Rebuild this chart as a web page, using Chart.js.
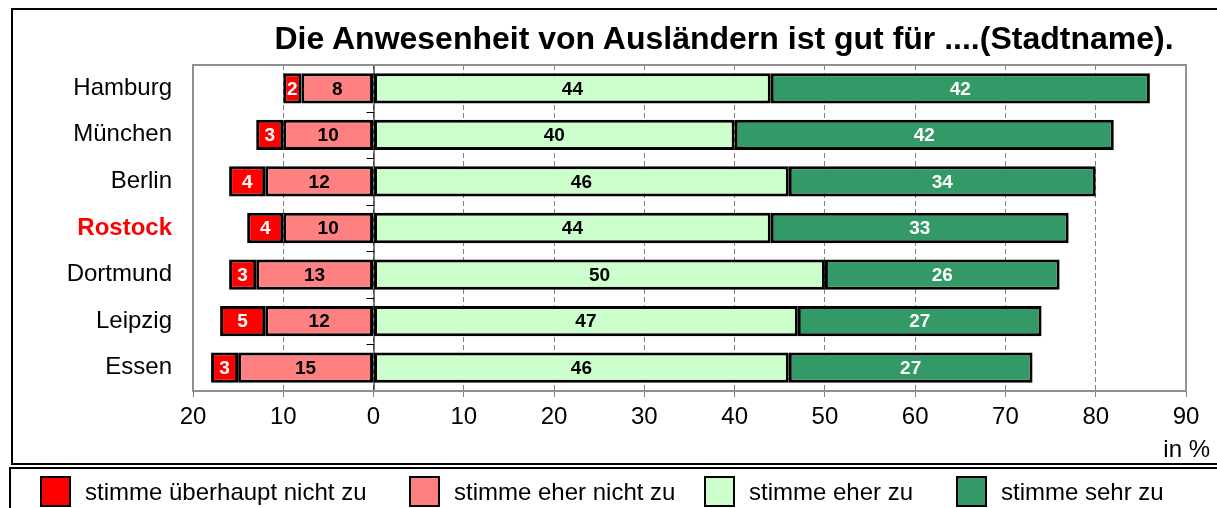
<!DOCTYPE html>
<html lang="de">
<head>
    <meta charset="UTF-8">
    <title>Die Anwesenheit von Ausländern ist gut für ....(Stadtname).</title>
    <script src="https://cdn.jsdelivr.net/npm/chart.js"></script>
    <style>
        body {
            margin: 0;
            font-family: "Liberation Sans", Arial, sans-serif;
            background-color: #ffffff;
            color: #000000;
        }
        .page {
            position: relative;
            width: 1217px;
            height: 508px;
            overflow: hidden;
        }
        .frame {
            position: absolute;
            left: 11px;
            top: 8px;
            width: 1300px;
            height: 453px;
            border: 2px solid #000;
        }
        .legend-frame {
            position: absolute;
            left: 9px;
            top: 467px;
            width: 1300px;
            height: 100px;
            border: 2px solid #000;
        }
        canvas {
            position: absolute;
            left: 0;
            top: 0;
        }
        .title {
            position: absolute;
            left: 224px;
            width: 1000px;
            top: 22px;
            text-align: center;
            font-weight: bold;
            font-size: 32px;
            line-height: 32px;
            white-space: nowrap;
        }
        .unit {
            position: absolute;
            right: 7px;
            top: 437px;
            font-size: 24px;
            line-height: 24px;
        }
        .legend-item {
            position: absolute;
            top: 476px;
            height: 31px;
            font-size: 24px;
            line-height: 31px;
            white-space: nowrap;
        }
        .legend-item span {
            display: inline-block;
            width: 27px;
            height: 27px;
            border: 2px solid #000;
            vertical-align: top;
            margin-right: 14px;
        }
    </style>
</head>
<body>
<div class="page">
    <div class="frame"></div>
    <div class="legend-frame"></div>
    <canvas id="chart" width="1217" height="508"></canvas>
    <div class="title">Die Anwesenheit von Ausländern ist gut für ....(Stadtname).</div>
    <div class="unit">in %</div>
    <div id="legend"></div>
</div>

<script>
    const cities = ['Hamburg', 'München', 'Berlin', 'Rostock', 'Dortmund', 'Leipzig', 'Essen'];
    const highlightCity = 'Rostock';

    const stronglyDisagree = [2, 3, 4, 4, 3, 5, 3];
    const ratherDisagree = [8, 10, 12, 10, 13, 12, 15];
    const ratherAgree = [44, 40, 46, 44, 50, 47, 46];
    const stronglyAgree = [42, 42, 34, 33, 26, 27, 27];

    const seriesLabels = ['stimme überhaupt nicht zu', 'stimme eher nicht zu', 'stimme eher zu', 'stimme sehr zu'];
    const seriesColors = ['#FF0000', '#FF8080', '#CCFFCC', '#339966'];
    const labelColors = ['#FFFFFF', '#000000', '#000000', '#FFFFFF'];

    const xTicksMin = -20;
    const xTicksMax = 90;
    const xStep = 10;

    // html legend, order as in the original
    const legendLeft = [40, 409, 704, 956];
    const legendEl = document.getElementById('legend');
    seriesLabels.forEach((label, i) => {
        const item = document.createElement('div');
        item.className = 'legend-item';
        item.style.left = legendLeft[i] + 'px';
        item.innerHTML = '<span style="background:' + seriesColors[i] + '"></span>' + label;
        legendEl.appendChild(item);
    });

    // negative side: the "eher nicht" part sits next to zero, the red one outside
    function makeSet(idx, values, sign) {
        return {
            label: seriesLabels[idx],
            data: values.map(v => v * sign),
            backgroundColor: seriesColors[idx],
            borderColor: '#000000',
            borderWidth: 3,
            borderSkipped: false,
            barPercentage: 0.65,
            categoryPercentage: 1.0,
            labelColor: labelColors[idx]
        };
    }

    const frameLines = {
        id: 'frameLines',
        beforeDatasetsDraw(chart) {
            const ctx = chart.ctx;
            const a = chart.chartArea;
            const x0 = chart.scales.x.getPixelForValue(0);
            ctx.save();
            // zero axis with category tick marks
            ctx.strokeStyle = '#000000';
            ctx.lineWidth = 1;
            ctx.beginPath();
            ctx.moveTo(x0 + 0.5, a.top);
            ctx.lineTo(x0 + 0.5, a.bottom);
            const n = cities.length;
            for (let k = 0; k < n; k++) {
                const y = Math.round(a.top + (a.bottom - a.top) * k / n) + 0.5;
                ctx.moveTo(x0 - 7, y);
                ctx.lineTo(x0 + 0.5, y);
            }
            ctx.stroke();
            // plot border
            ctx.strokeStyle = '#909090';
            ctx.lineWidth = 2;
            ctx.strokeRect(a.left, a.top, a.right - a.left, a.bottom - a.top);
            ctx.restore();
        }
    };

    const barValues = {
        id: 'barValues',
        afterDatasetsDraw(chart) {
            const ctx = chart.ctx;
            ctx.save();
            ctx.font = 'bold 19px "Liberation Sans", Arial, sans-serif';
            ctx.textAlign = 'center';
            ctx.textBaseline = 'middle';
            chart.data.datasets.forEach((ds, i) => {
                const meta = chart.getDatasetMeta(i);
                meta.data.forEach((bar, j) => {
                    const c = bar.getCenterPoint();
                    ctx.fillStyle = ds.labelColor;
                    ctx.fillText(Math.abs(ds.data[j]), c.x, c.y + 1);
                });
            });
            ctx.restore();
        }
    };

    new Chart(document.getElementById('chart').getContext('2d'), {
        type: 'bar',
        data: {
            labels: cities,
            datasets: [
                makeSet(1, ratherDisagree, -1),
                makeSet(0, stronglyDisagree, -1),
                makeSet(2, ratherAgree, 1),
                makeSet(3, stronglyAgree, 1)
            ]
        },
        options: {
            indexAxis: 'y',
            responsive: false,
            animation: false,
            layout: {
                padding: { top: 65, right: 31, left: 0, bottom: 0 }
            },
            plugins: {
                legend: { display: false },
                title: { display: false },
                tooltip: { enabled: false }
            },
            scales: {
                x: {
                    stacked: true,
                    min: xTicksMin,
                    max: xTicksMax,
                    afterFit: s => { s.height = 117; },
                    ticks: {
                        stepSize: xStep,
                        padding: 6,
                        color: '#000000',
                        font: { family: '"Liberation Sans", Arial, sans-serif', size: 24 },
                        callback: v => Math.abs(v)
                    },
                    grid: {
                        color: '#808080',
                        lineWidth: 1,
                        tickLength: 6,
                        tickColor: '#808080',
                        tickBorderDash: []
                    },
                    border: { display: false, dash: [5, 3] }
                },
                y: {
                    stacked: true,
                    afterFit: s => { s.width = 193; },
                    grid: { display: false },
                    border: { display: false },
                    ticks: {
                        padding: 13,
                        color: ctx => cities[ctx.index] === highlightCity ? '#FF0000' : '#000000',
                        font: ctx => ({
                            family: '"Liberation Sans", Arial, sans-serif',
                            size: 24,
                            weight: cities[ctx.index] === highlightCity ? 'bold' : 'normal'
                        })
                    }
                }
            }
        },
        plugins: [frameLines, barValues]
    });
</script>
</body>
</html>
